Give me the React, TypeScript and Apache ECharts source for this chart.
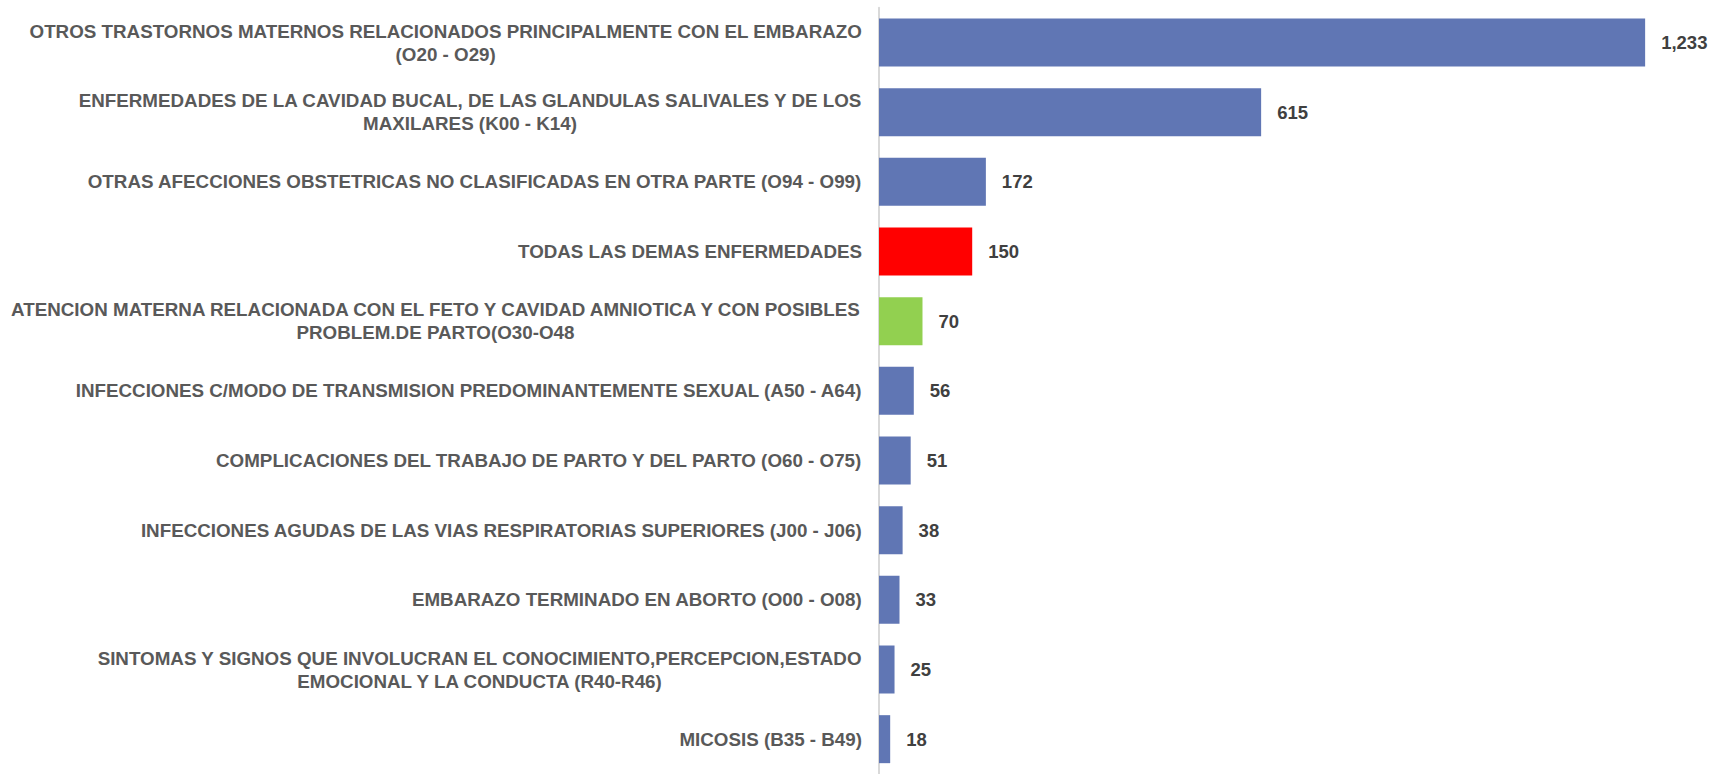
import React, { useEffect, useRef } from "react";
import * as echarts from "echarts";

const categories: string[] = [
  "OTROS TRASTORNOS MATERNOS RELACIONADOS PRINCIPALMENTE CON EL EMBARAZO\n(O20 - O29)",
  "ENFERMEDADES DE LA CAVIDAD BUCAL, DE LAS GLANDULAS SALIVALES Y DE LOS\nMAXILARES (K00 - K14)",
  "OTRAS AFECCIONES OBSTETRICAS NO CLASIFICADAS EN OTRA PARTE (O94 - O99)",
  "TODAS LAS DEMAS ENFERMEDADES",
  "ATENCION MATERNA RELACIONADA CON EL FETO Y CAVIDAD AMNIOTICA Y CON POSIBLES\nPROBLEM.DE PARTO(O30-O48",
  "INFECCIONES C/MODO DE TRANSMISION PREDOMINANTEMENTE SEXUAL (A50 - A64)",
  "COMPLICACIONES DEL TRABAJO DE PARTO Y DEL PARTO (O60 - O75)",
  "INFECCIONES AGUDAS DE LAS VIAS RESPIRATORIAS SUPERIORES (J00 - J06)",
  "EMBARAZO TERMINADO EN ABORTO (O00 - O08)",
  "SINTOMAS Y SIGNOS QUE INVOLUCRAN EL CONOCIMIENTO,PERCEPCION,ESTADO\nEMOCIONAL Y LA CONDUCTA (R40-R46)",
  "MICOSIS (B35 - B49)",
];

const values: number[] = [1233, 615, 172, 150, 70, 56, 51, 38, 33, 25, 18];

const barColors: string[] = [
  "#6076B4",
  "#6076B4",
  "#6076B4",
  "#FF0000",
  "#92D050",
  "#6076B4",
  "#6076B4",
  "#6076B4",
  "#6076B4",
  "#6076B4",
  "#6076B4",
];

const FONT = "'Liberation Sans', Arial, sans-serif";

export default function App() {
  const ref = useRef<HTMLDivElement>(null);

  useEffect(() => {
    if (!ref.current) return;
    const chart = echarts.init(ref.current, undefined, { renderer: "svg" });
    const catStyle = {
      color: "#595959",
      fontFamily: FONT,
      fontWeight: "bold" as const,
      fontSize: 18.8,
      lineHeight: 23,
    };
    chart.setOption({
      animation: false,
      backgroundColor: "#ffffff",
      grid: {
        left: 879,
        right: 0,
        top: 7.7,
        height: 772.6,
        containLabel: false,
      },
      xAxis: {
        type: "value",
        min: 0,
        max: 1339,
        show: false,
      },
      yAxis: {
        type: "category",
        inverse: true,
        data: categories,
        axisLine: { show: true, lineStyle: { color: "#D9D9D9", width: 2 } },
        axisTick: { show: false },
        splitLine: { show: false },
        axisLabel: {
          margin: 17,
          ...catStyle,
          align: "right",
          formatter: (v: string) =>
            v
              .split("\n")
              .map((l) => `{c|${l}}`)
              .join("\n"),
          rich: {
            c: { ...catStyle, align: "center" },
          },
        },
      },
      series: [
        {
          type: "bar",
          barWidth: 48,
          data: values.map((v, i) => ({
            value: v,
            itemStyle: { color: barColors[i] },
          })),
          label: {
            show: true,
            position: "right",
            distance: 16,
            color: "#404040",
            fontFamily: FONT,
            fontWeight: "bold",
            fontSize: 18.5,
            formatter: (p: any) => Number(p.value).toLocaleString("en-US"),
          },
        },
      ],
    });
    return () => chart.dispose();
  }, []);

  return (
    <div
      ref={ref}
      style={{ position: "fixed", left: 0, top: 0, width: 1711, height: 774 }}
    />
  );
}
